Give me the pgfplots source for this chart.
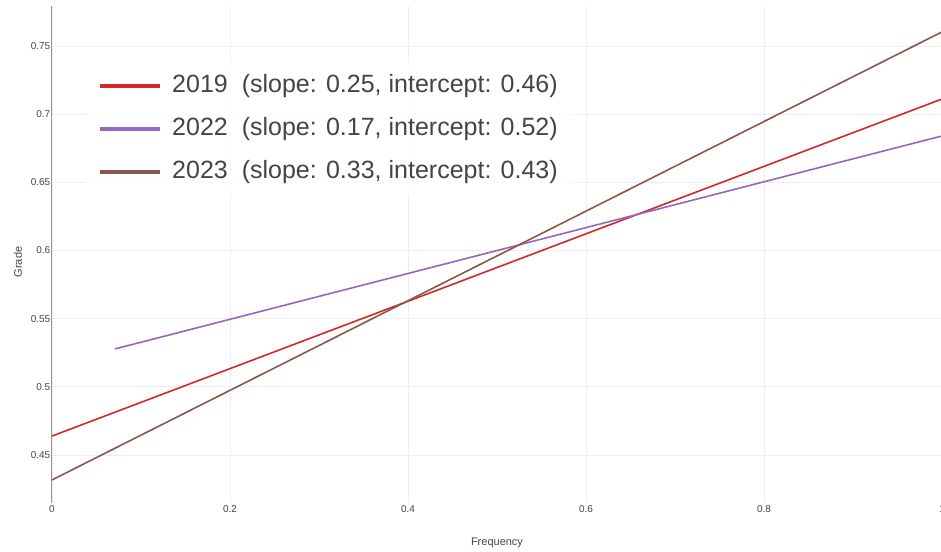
\documentclass[border=0pt]{standalone}
\usepackage{fontspec}
\setmainfont{Liberation Sans}
\usepackage{pgfplots}
\pgfplotsset{compat=1.18}
\definecolor{c2019}{RGB}{214,39,40}
\definecolor{c2022}{RGB}{148,103,189}
\definecolor{c2023}{RGB}{140,86,75}
\definecolor{txt}{RGB}{68,68,68}
\definecolor{gridc}{RGB}{238,238,238}
\definecolor{axc}{RGB}{150,150,150}
\begin{document}
\begin{tikzpicture}[x=1pt,y=1pt]
\useasboundingbox (-52pt,-48pt) rectangle (889pt,503pt);
\begin{axis}[
  at={(0pt,0pt)}, anchor=origin,
  scale only axis,
  width=890pt, height=497pt,
  xmin=0, xmax=1, ymin=0.4148, ymax=0.7793,
  xtick={0,0.2,0.4,0.6,0.8,1},
  ytick={0.45,0.5,0.55,0.6,0.65,0.7,0.75},
  /pgf/number format/assume math mode=true,
  /pgf/number format/fixed,
  /pgf/number format/precision=2,
  axis lines*=left,
  x axis line style={draw=none},
  y axis line style={draw=axc, line width=1pt, -},
  major tick length=0pt,
  tick style={draw=none},
  grid=major,
  major grid style={draw=gridc, line width=0.8pt},
  ticklabel style={font=\fontsize{10}{12}\selectfont, text=txt},
  yticklabel style={inner sep=1.5pt},
  xticklabel style={inner sep=2pt},
  every axis y label/.style={at={(axis description cs:-0.0382,0.485)}, anchor=center, rotate=90},
  every axis x label/.style={at={(axis description cs:0.5,-0.0805)}, anchor=center},
  label style={font=\fontsize{11}{13}\selectfont, text=txt},
  xlabel={Frequency},
  ylabel={Grade},
  clip=true,
  legend cell align=left,
  legend style={
    at={(axis description cs:0.0371,0.8873)}, anchor=north west,
    draw=none, fill=white, fill opacity=0.85, text opacity=1,
    font=\fontsize{25}{30}\selectfont, text=txt,
    inner xsep=13pt, inner ysep=9pt,
    row sep=14pt,
    /tikz/every odd column/.append style={column sep=8pt},
    nodes={inner sep=2pt, text height=19pt, text depth=6pt},
  },
  legend image code/.code={\draw[#1, line width=4pt] (0pt,0pt) -- (60pt,0pt);},
]
\addplot[c2019, line width=1.6pt] coordinates {(0,0.4639) (1,0.7111)};
\addlegendentry{2019\hspace{14pt}(slope: 0.25, intercept: 0.46)}
\addplot[c2022, line width=1.6pt] coordinates {(0.0708,0.5278) (1,0.6840)};
\addlegendentry{2022\hspace{14pt}(slope: 0.17, intercept: 0.52)}
\addplot[c2023, line width=1.6pt] coordinates {(0,0.4317) (1,0.7603)};
\addlegendentry{2023\hspace{14pt}(slope: 0.33, intercept: 0.43)}
\end{axis}
\end{tikzpicture}
\end{document}
